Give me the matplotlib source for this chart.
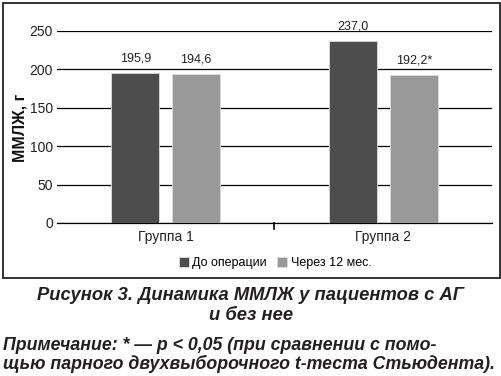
import matplotlib
matplotlib.use("Agg")
import matplotlib.pyplot as plt
from matplotlib.patches import Rectangle
import numpy as np

plt.rcParams['font.family'] = ['Liberation Sans', 'DejaVu Sans']

groups = ["Группа 1", "Группа 2"]
series_names = ["До операции", "Через 12 мес."]
before = [195.9, 237.0]
after = [194.6, 192.2]
labels_before = ["195,9", "237,0"]
labels_after = ["194,6", "192,2*"]
yticks = [0, 50, 100, 150, 200, 250]
ylabel = "ММЛЖ, г"
caption_lines = ["Рисунок 3. Динамика ММЛЖ у пациентов с АГ", "и без нее"]
note_lines = ["Примечание: * — p < 0,05 (при сравнении с помо-",
              "щью парного двухвыборочного t-теста Стьюдента)."]

dark = "#4d4d4d"
light = "#999999"

fig = plt.figure(figsize=(5.02, 3.76), dpi=100)
ax = fig.add_axes([57/502, 1-223/376, (492-57)/502, (223-31)/376])

x = np.arange(len(groups))
w = 0.22
off = 0.14
b1 = ax.bar(x - off, before, w, color=dark, edgecolor="#dddddd", linewidth=0.6, zorder=3, label=series_names[0])
b2 = ax.bar(x + off, after, w, color=light, edgecolor="#dddddd", linewidth=0.6, zorder=3, label=series_names[1])

for rect, lab in zip(list(b1) + list(b2), labels_before + labels_after):
    ax.text(rect.get_x() + rect.get_width()/2, rect.get_height() + 11, lab,
            ha="center", va="bottom", fontsize=9, color="#222222")

ax.set_xlim(-0.5, 1.5)
ax.set_ylim(0, 250)
ax.set_yticks(yticks)
ax.set_yticklabels([str(v) for v in yticks], fontsize=10, color="#222222")
ax.yaxis.grid(True, color="black", linewidth=0.9, zorder=0)
ax.set_axisbelow(True)
ax.tick_params(axis="y", length=0, pad=3)
ax.set_xticks(x)
ax.set_xticklabels(groups, fontsize=10, color="#222222")
ax.tick_params(axis="x", length=0, pad=5)
# divider tick between categories
ax.plot([0.5, 0.5], [0, -0.03], transform=ax.get_xaxis_transform(), color="black",
        linewidth=1.2, clip_on=False)
for s in ["top", "right", "left"]:
    ax.spines[s].set_visible(False)
ax.spines["bottom"].set_color("black")
ax.spines["bottom"].set_linewidth(0.9)

fig.text(20/502, 1-128/376, ylabel, rotation=90, ha="center", va="center",
         fontsize=11.5, fontweight="bold", color="#111111")

fig.legend(handles=[b1, b2], labels=series_names, loc="center",
           bbox_to_anchor=(275/502, 1-263/376), ncol=2, frameon=False,
           fontsize=9, handlelength=0.8, handleheight=0.8, handletextpad=0.3,
           columnspacing=0.8)

fig.patches.append(Rectangle((3/502, 1-278/376), (500-3)/502, (278-3)/376,
                             transform=fig.transFigure, fill=False,
                             edgecolor="#222222", linewidth=1.3))

cap_kw = dict(fontweight="bold", fontstyle="italic", color="#231f20")
fig.text(0.5, 1-295/376, caption_lines[0], ha="center", va="center", fontsize=13.2, **cap_kw)
fig.text(0.5, 1-315/376, caption_lines[1], ha="center", va="center", fontsize=13.2, **cap_kw)
fig.text(3/502, 1-345/376, note_lines[0], ha="left", va="center", fontsize=12.8, **cap_kw)
fig.text(3/502, 1-364/376, note_lines[1], ha="left", va="center", fontsize=12.8, **cap_kw)

fig.savefig("out.png", dpi=100)
